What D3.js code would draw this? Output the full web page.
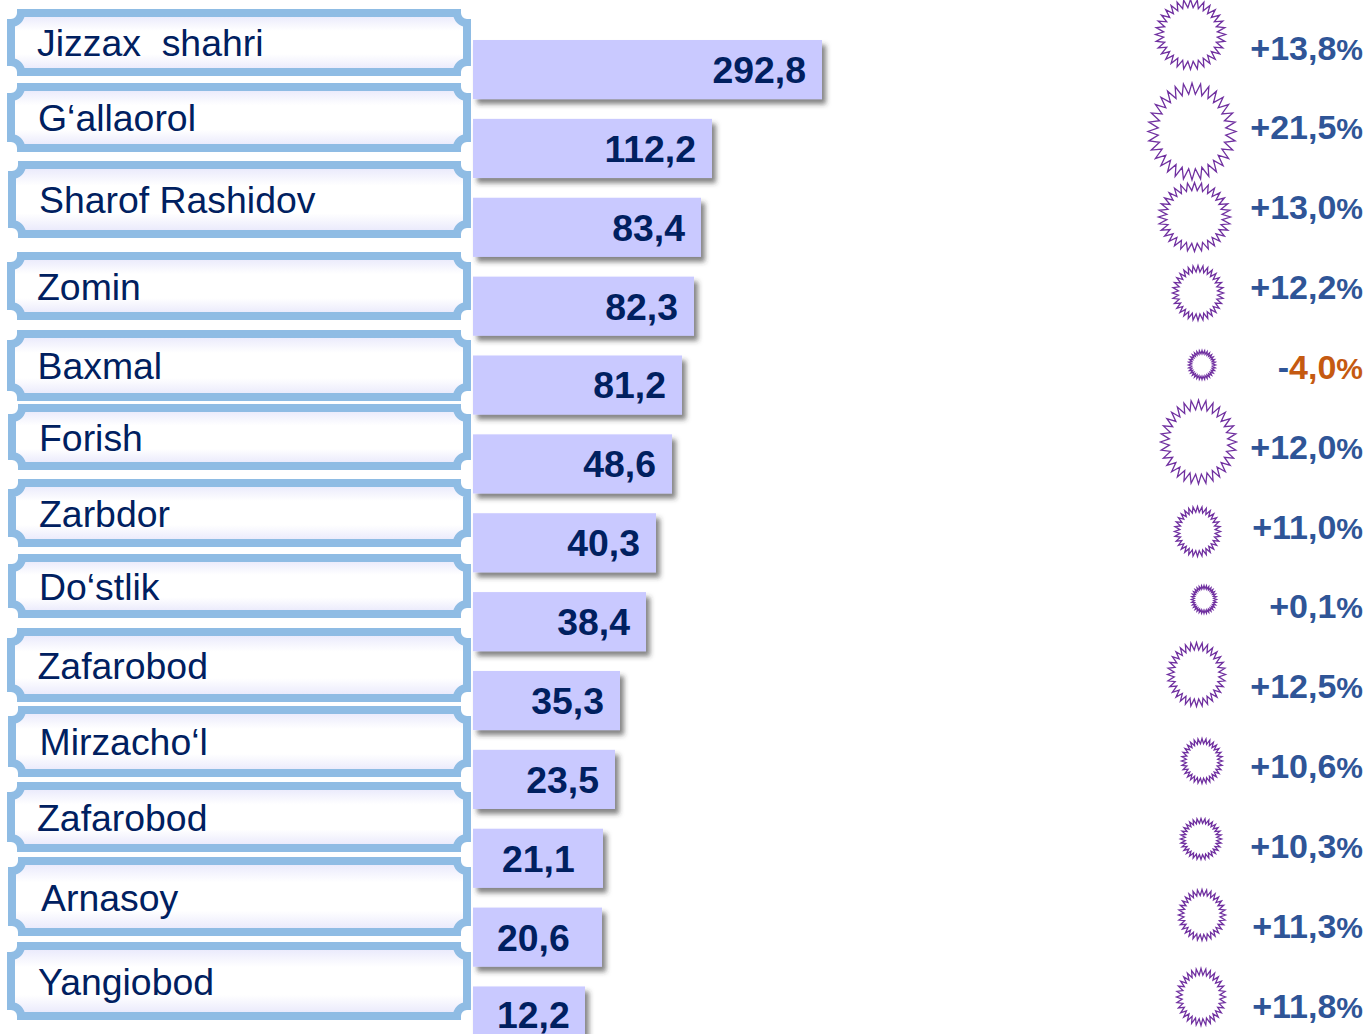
<!DOCTYPE html>
<html><head><meta charset="utf-8">
<script src="https://cdn.jsdelivr.net/npm/d3@7"></script>
<style>html,body{margin:0;padding:0;background:#fff;overflow:hidden}svg{display:block}text{font-family:"Liberation Sans",Arial,sans-serif}</style>
</head><body><div id="c"></div>
<script>
// ---- data ----
const categories=["Jizzax  shahri","G‘allaorol","Sharof Rashidov","Zomin","Baxmal","Forish","Zarbdor","Do‘stlik","Zafarobod","Mirzacho‘l","Zafarobod","Arnasoy","Yangiobod"];
const values=[292.8,112.2,83.4,82.3,81.2,48.6,40.3,38.4,35.3,23.5,21.1,20.6,12.2];
const changes=[13.8,21.5,13.0,12.2,-4.0,12.0,11.0,0.1,12.5,10.6,10.3,11.3,11.8];

// ---- layout (the source infographic is hand-drawn, not to a linear scale) ----
const W=1364,H=1034;
const valueKnots=[12.2,20.6,21.1,23.5,35.3,38.4,40.3,48.6,81.2,82.3,83.4,112.2,292.8];
const widthKnots=[112,129,130,142,147,173,183,199,209,221,228,239,349];
const boxTop=[13,87,165,256,334,408,483,558,632,710,786,861,946];
const boxBottom=[72,148,234,316,397,466,543,614,698,773,848,932,1016];
const boxLeft=[11,11,12,11,11,12,12,12,11,12,11,12,11];
const textX=[37,38,39,37,37.5,39,39,39,37.5,39.5,37,41,38];
const textY=[56,131,213,300,379,451,527,600,679,755,831,911,995];
const burstCx=[1190.5,1192,1194.5,1198,1202,1198.5,1197.5,1204,1196.5,1202,1201,1202,1201];
const burstCy=[34.5,131.5,217,293,365,442,531.5,599.5,674.5,761,839,915,997];
const burstRx=[35,44,36,25.5,13.5,38,23,12.5,29,20.5,20.5,23.5,24.5];
const burstRy=[35,48.5,34.5,27.5,14.5,42,25,14,32,22.5,20.5,25.5,28.5];
const valueInsetLeft={10:29,11:24,12:24};

const svg=d3.select("#c").append("svg").attr("width",W).attr("height",H);
const defs=svg.append("defs");
const g=defs.append("linearGradient").attr("id","boxFill").attr("x1",0).attr("x2",0).attr("y1",0).attr("y2",1);
[[0,"#e6e6fb"],[.3,"#ffffff"],[.7,"#ffffff"],[1,"#e6e6fb"]].forEach(s=>g.append("stop").attr("offset",s[0]).attr("stop-color",s[1]));
const f=defs.append("filter").attr("id","sh").attr("x","-5%").attr("y","-10%").attr("width","115%").attr("height","130%");
f.append("feDropShadow").attr("dx",4).attr("dy",5).attr("stdDeviation",2.4).attr("flood-color","#333").attr("flood-opacity",.6);

const y=d3.scaleBand().domain(d3.range(categories.length)).range([40,40+12.75*78.87]).paddingInner(.25).paddingOuter(0).align(0);
const w=d3.scaleLinear().domain(valueKnots).range(widthKnots);
const fmt=v=>d3.format(".1f")(Math.abs(v)).replace(".",",");

// plaques
const r=10, right=467;
function plaque(x0,y0,x1,y1){
  return `M${x0+r},${y0}H${x1-r}A${r},${r} 0 0 0 ${x1},${y0+r}V${y1-r}A${r},${r} 0 0 0 ${x1-r},${y1}H${x0+r}A${r},${r} 0 0 0 ${x0},${y1-r}V${y0+r}A${r},${r} 0 0 0 ${x0+r},${y0}Z`;
}
svg.append("g").selectAll("path").data(categories).join("path")
  .attr("d",(d,i)=>plaque(boxLeft[i],boxTop[i],right,boxBottom[i]))
  .attr("fill","url(#boxFill)").attr("stroke","#8fbce4").attr("stroke-width",8);
svg.append("g").selectAll("text").data(categories).join("text")
  .attr("x",(d,i)=>textX[i]).attr("y",(d,i)=>textY[i])
  .attr("font-size",37.4).attr("fill","#002060").style("white-space","pre").text(d=>d);

// bars
svg.append("g").selectAll("rect").data(values).join("rect")
  .attr("x",473).attr("y",(d,i)=>y(i)).attr("width",d=>w(d)).attr("height",y.bandwidth())
  .attr("fill","#c9c9ff").attr("filter","url(#sh)");
svg.append("g").selectAll("text").data(values).join("text")
  .attr("x",(d,i)=>i in valueInsetLeft?473+valueInsetLeft[i]:473+w(d)-16)
  .attr("text-anchor",(d,i)=>i in valueInsetLeft?"start":"end")
  .attr("y",(d,i)=>i===12?y(i)+42:y(i)+43).attr("font-size",37.4).attr("font-weight",700).attr("fill","#002060")
  .text(fmt);

// bursts
const N=32;
svg.append("g").selectAll("path").data(changes).join("path")
  .attr("d",(d,i)=>{
    const pts=d3.range(N*2).map(k=>{
      const a=k*Math.PI/N-Math.PI/2, t=k%2?.77:1;
      return [burstCx[i]+burstRx[i]*t*Math.cos(a),burstCy[i]+burstRy[i]*t*Math.sin(a)];
    });
    return d3.line().curve(d3.curveLinearClosed)(pts);
  })
  .attr("fill","#fff").attr("stroke","#7030a0").attr("stroke-width",1.3);

// percent labels
const py=d3.scalePoint().domain(d3.range(changes.length)).range([59.5,1017.5]);
const pct=svg.append("g").selectAll("text").data(changes).join("text")
  .attr("x",1363).attr("y",(d,i)=>py(i)).attr("text-anchor","end")
  .attr("font-size",34).attr("font-weight",700).attr("fill","#2f5597");
pct.append("tspan").text(d=>d<0?"-":"+");
pct.append("tspan").attr("fill",d=>d<0?"#c55a11":null).text(fmt);
pct.append("tspan").attr("font-size",30).attr("fill",d=>d<0?"#c55a11":null).text("%");
</script></body></html>
